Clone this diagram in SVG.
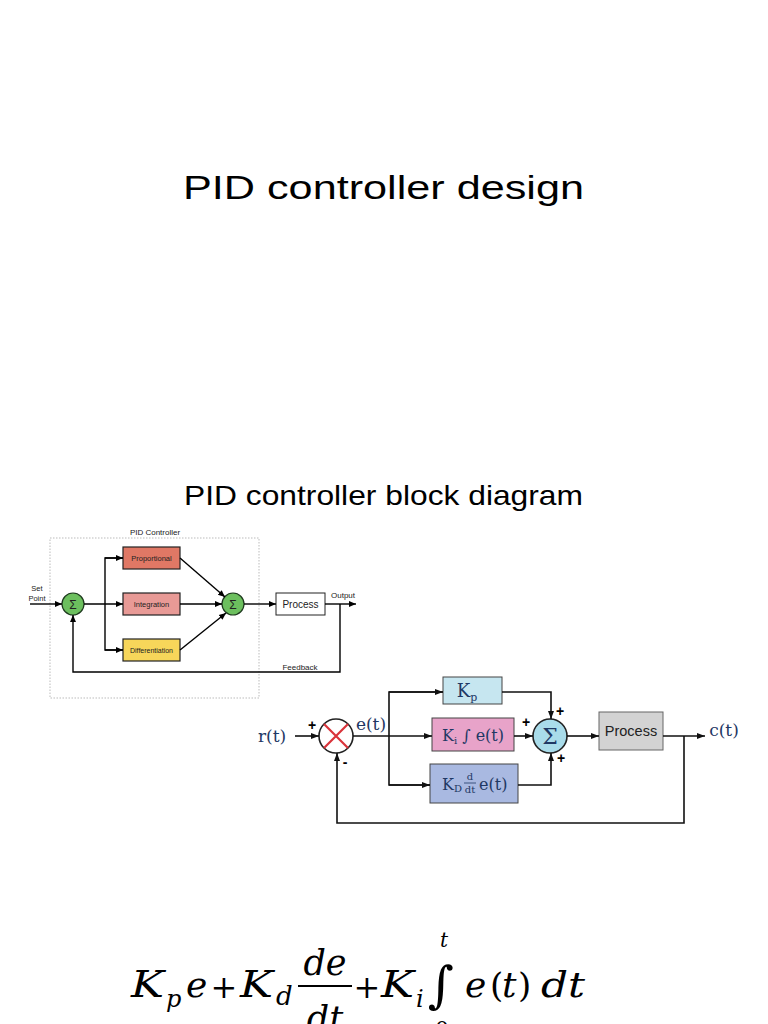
<svg xmlns="http://www.w3.org/2000/svg" width="768" height="1024" viewBox="0 0 768 1024">
<defs>
<marker id="a1" markerUnits="userSpaceOnUse" markerWidth="8" markerHeight="8" refX="7" refY="4" orient="auto"><path d="M0,1 L7,4 L0,7 Z" fill="#000"/></marker>
<marker id="a2" markerUnits="userSpaceOnUse" markerWidth="9" markerHeight="8" refX="8" refY="4" orient="auto"><path d="M0,1 L8,4 L0,7 Z" fill="#111"/></marker>
</defs>
<style>
.title{font-family:"Liberation Sans",Arial,sans-serif;fill:#000}
.s1{font-family:"Liberation Sans",Arial,sans-serif;fill:#222}
.ln1{stroke:#000;stroke-width:1.4;fill:none}
.ln2{stroke:#111;stroke-width:1.6;fill:none}
.bx1{stroke:#222;stroke-width:1.2}
.bx2{stroke:#444;stroke-width:1}
.ser{font-family:"DejaVu Serif","Liberation Serif",serif;fill:#1f3864}
.pl{font-family:"Liberation Sans",Arial,sans-serif;font-weight:bold;font-size:14px;text-anchor:middle;fill:#000}
.eq{font-family:"DejaVu Serif","Liberation Serif",serif;font-style:italic;fill:#000}
.eqn{font-family:"DejaVu Serif","Liberation Serif",serif;fill:#000}
</style>
<rect width="768" height="1024" fill="#fff"/>
<text class="title" x="183" y="199" font-size="34" textLength="401" lengthAdjust="spacingAndGlyphs">PID controller design</text>
<text class="title" x="184" y="505" font-size="28.5" textLength="399" lengthAdjust="spacingAndGlyphs">PID controller block diagram</text>

<!-- Diagram 1 -->
<g id="d1-frame">
<rect x="50" y="538" width="209" height="160" fill="none" stroke="#aaa" stroke-width="0.8" stroke-dasharray="1.5,1.5"/>
<text class="s1" x="155" y="535" font-size="8" text-anchor="middle">PID Controller</text>
</g>
<g id="d1-sum1"><circle cx="73" cy="604" r="11" fill="#6cbf5e" stroke="#1e3a1e" stroke-width="1.2"/><text class="s1" x="73" y="608.5" font-size="12" text-anchor="middle" fill="#000">Σ</text></g>
<g id="d1-prop"><rect class="bx1" x="123" y="547" width="57" height="22" fill="#e07865"/><text class="s1" x="151.5" y="561" font-size="7.5" text-anchor="middle">Proportional</text></g>
<g id="d1-int"><rect class="bx1" x="123" y="593" width="57" height="22" fill="#e89a96"/><text class="s1" x="151.5" y="607" font-size="7.5" text-anchor="middle">Integration</text></g>
<g id="d1-diff"><rect class="bx1" x="123" y="639" width="57" height="22" fill="#f7d65a"/><text class="s1" x="151.5" y="653" font-size="7" text-anchor="middle">Differentiation</text></g>
<g id="d1-sum2"><circle cx="233" cy="604" r="11" fill="#6cbf5e" stroke="#1e3a1e" stroke-width="1.2"/><text class="s1" x="233" y="608.5" font-size="12" text-anchor="middle" fill="#000">Σ</text></g>
<g id="d1-proc"><rect x="276" y="593" width="49" height="22" fill="#fff" stroke="#222" stroke-width="1"/><text class="s1" x="300.5" y="607.5" font-size="10" text-anchor="middle">Process</text></g>
<g id="d1-labels">
<text class="s1" x="37" y="591" font-size="7.5" text-anchor="middle">Set</text>
<text class="s1" x="37" y="601" font-size="7.5" text-anchor="middle">Point</text>
<text class="s1" x="343" y="598" font-size="8" text-anchor="middle">Output</text>
<text class="s1" x="300" y="670" font-size="8" text-anchor="middle">Feedback</text>
</g>
<g id="d1-connectors">
<line class="ln1" x1="30" y1="604" x2="62" y2="604" marker-end="url(#a1)"/>
<line class="ln1" x1="84" y1="604" x2="123" y2="604" marker-end="url(#a1)"/>
<polyline class="ln1" points="123,558 105,558 105,650 123,650"/>
<line class="ln1" x1="105" y1="558" x2="123" y2="558" marker-end="url(#a1)"/>
<line class="ln1" x1="105" y1="650" x2="123" y2="650" marker-end="url(#a1)"/>
<line class="ln1" x1="180" y1="558" x2="225" y2="597" marker-end="url(#a1)"/>
<line class="ln1" x1="180" y1="604" x2="222" y2="604" marker-end="url(#a1)"/>
<line class="ln1" x1="180" y1="650" x2="226" y2="613" marker-end="url(#a1)"/>
<line class="ln1" x1="244" y1="604" x2="276" y2="604" marker-end="url(#a1)"/>
<line class="ln1" x1="325" y1="604" x2="356" y2="604" marker-end="url(#a1)"/>
<polyline class="ln1" points="340,604 340,672 73,672 73,615" marker-end="url(#a1)"/>
</g>

<!-- Diagram 2 -->
<g id="d2-r"><text class="ser" x="272" y="742" font-size="17" text-anchor="middle">r(t)</text></g>
<g id="d2-cmp">
<circle cx="336" cy="736" r="17" fill="#fff" stroke="#222" stroke-width="1.6"/>
<path d="M324,724 L348,748 M348,724 L324,748" stroke="#d9333a" stroke-width="2.2"/>
<text class="pl" x="312" y="730">+</text>
<text class="pl" x="345" y="767">-</text>
</g>
<g id="d2-e"><text class="ser" x="371" y="730" font-size="17" text-anchor="middle">e(t)</text></g>
<g id="d2-kp"><rect class="bx2" x="443" y="677" width="59" height="27" fill="#c6e6f0"/><text class="ser" x="467" y="697" font-size="18" text-anchor="middle">K<tspan font-size="11" dy="4">p</tspan></text></g>
<g id="d2-ki"><rect class="bx2" x="432" y="718" width="82" height="33" fill="#e8a3c9"/><text class="ser" x="473" y="741" font-size="16" text-anchor="middle">K<tspan font-size="10" dy="3">i</tspan><tspan dy="-3"> ∫ e(t)</tspan></text></g>
<g id="d2-kd"><rect class="bx2" x="430" y="764" width="88" height="39" fill="#a9b9e1"/>
<text class="ser" x="442" y="790" font-size="16">K<tspan font-size="10" dy="2">D</tspan></text>
<text class="ser" x="470" y="780" font-size="10" text-anchor="middle">d</text>
<line x1="464" y1="783" x2="476" y2="783" stroke="#1f3864" stroke-width="0.8"/>
<text class="ser" x="470" y="793" font-size="10" text-anchor="middle">dt</text>
<text class="ser" x="479" y="790" font-size="16">e(t)</text>
</g>
<g id="d2-sum"><circle cx="550" cy="736" r="17" fill="#a9dcea" stroke="#222" stroke-width="1.6"/><text class="ser" x="550" y="744" font-size="22" text-anchor="middle">Σ</text>
<text class="pl" x="560" y="716">+</text>
<text class="pl" x="526" y="727">+</text>
<text class="pl" x="561" y="763">+</text>
</g>
<g id="d2-proc"><rect x="599" y="712" width="64" height="38" fill="#d3d3d3" stroke="#666" stroke-width="1"/><text x="631" y="736" font-size="14.5" font-family="Liberation Sans,Arial,sans-serif" fill="#222" text-anchor="middle">Process</text></g>
<g id="d2-c"><text class="ser" x="724" y="736" font-size="17" text-anchor="middle">c(t)</text></g>
<g id="d2-connectors">
<line class="ln2" x1="295" y1="736" x2="319" y2="736" marker-end="url(#a2)"/>
<line class="ln2" x1="353" y1="736" x2="432" y2="736" marker-end="url(#a2)"/>
<polyline class="ln2" points="443,692 389,692 389,785 430,785"/>
<line class="ln2" x1="389" y1="692" x2="443" y2="692" marker-end="url(#a2)"/>
<line class="ln2" x1="389" y1="785" x2="430" y2="785" marker-end="url(#a2)"/>
<polyline class="ln2" points="502,692 551,692 551,719" marker-end="url(#a2)"/>
<line class="ln2" x1="514" y1="736" x2="533" y2="736" marker-end="url(#a2)"/>
<polyline class="ln2" points="518,785 551,785 551,753" marker-end="url(#a2)"/>
<line class="ln2" x1="567" y1="736" x2="599" y2="736" marker-end="url(#a2)"/>
<line class="ln2" x1="663" y1="736" x2="705" y2="736" marker-end="url(#a2)"/>
<polyline class="ln2" points="684,736 684,823 337,823 337,753" marker-end="url(#a2)"/>
</g>

<!-- Equation -->
<g id="equation">
<text class="eq" x="131" y="997" font-size="37" textLength="33" lengthAdjust="spacingAndGlyphs">K</text>
<text class="eq" x="166" y="1007" font-size="24">p</text>
<text class="eq" x="186" y="997" font-size="36">e</text>
<text class="eqn" x="224" y="998" font-size="32" text-anchor="middle">+</text>
<text class="eq" x="240" y="997" font-size="37" textLength="33" lengthAdjust="spacingAndGlyphs">K</text>
<text class="eq" x="276" y="1005" font-size="26">d</text>
<text class="eq" x="325" y="975" font-size="35" text-anchor="middle">de</text>
<line x1="298" y1="986" x2="352" y2="986" stroke="#000" stroke-width="2"/>
<text class="eq" x="325" y="1031" font-size="35" text-anchor="middle">dt</text>
<text class="eqn" x="367" y="998" font-size="32" text-anchor="middle">+</text>
<text class="eq" x="381" y="997" font-size="37" textLength="33" lengthAdjust="spacingAndGlyphs">K</text>
<text class="eq" x="416" y="1007" font-size="24">i</text>
<text class="eqn" x="441" y="1002" font-size="50" text-anchor="middle">∫</text>
<text class="eq" x="444" y="947" font-size="20" text-anchor="middle">t</text>
<text class="eqn" x="442" y="1037" font-size="22" text-anchor="middle">0</text>
<text class="eq" x="465" y="997" font-size="36">e</text>
<text class="eqn" x="490" y="997" font-size="34">(</text>
<text class="eq" x="502" y="997" font-size="36">t</text>
<text class="eqn" x="518" y="997" font-size="34">)</text>
<text class="eq" x="541" y="997" font-size="36" textLength="44" lengthAdjust="spacingAndGlyphs">dt</text>
</g>
</svg>
